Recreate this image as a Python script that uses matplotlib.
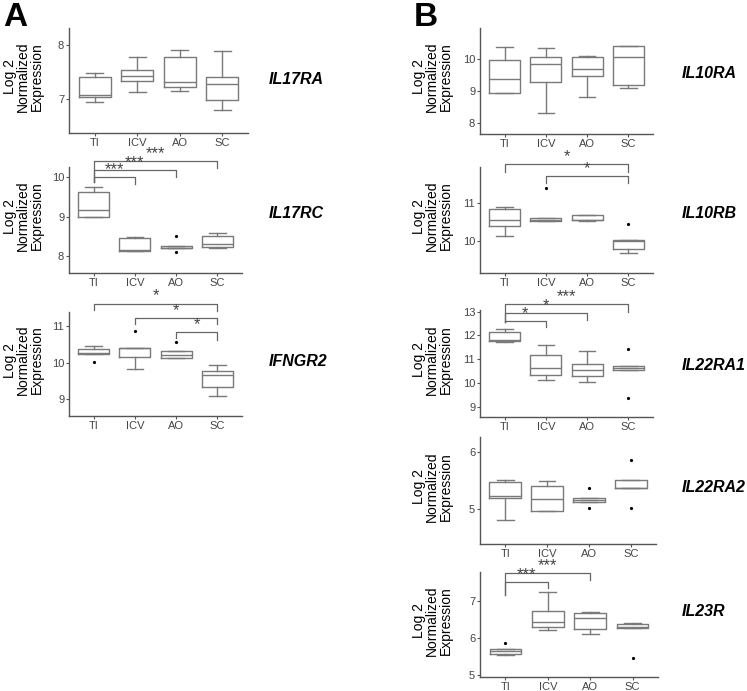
import matplotlib
matplotlib.use("Agg")
import matplotlib.pyplot as plt

plt.rcParams['font.family'] = ['Liberation Sans', 'DejaVu Sans']

groups = ["TI", "ICV", "AO", "SC"]

# five-number summaries per group: (whisker low, Q1, median, Q3, whisker high)
il17ra_stats = [(6.95, 7.03, 7.08, 7.40, 7.48), (7.12, 7.33, 7.42, 7.53, 7.78),
                (7.14, 7.22, 7.31, 7.77, 7.90), (6.80, 6.98, 7.28, 7.40, 7.88)]
il17ra_fliers = [[], [], [], []]

il17rc_stats = [(8.99, 8.99, 9.16, 9.62, 9.74), (8.14, 8.14, 8.16, 8.45, 8.49),
                (8.20, 8.20, 8.22, 8.27, 8.27), (8.21, 8.24, 8.31, 8.50, 8.58)]
il17rc_fliers = [[], [], [8.52, 8.10], []]

ifngr2_stats = [(10.25, 10.25, 10.27, 10.37, 10.46), (9.84, 10.16, 10.39, 10.41, 10.41),
                (10.13, 10.13, 10.22, 10.32, 10.32), (9.09, 9.33, 9.66, 9.78, 9.95)]
ifngr2_fliers = [[10.02], [10.86], [10.56], []]

il10ra_stats = [(8.93, 8.95, 9.37, 9.96, 10.35), (8.31, 9.28, 9.83, 10.06, 10.32),
                (8.83, 9.47, 9.68, 10.04, 10.07), (9.09, 9.19, 10.04, 10.38, 10.38)]
il10ra_fliers = [[], [], [], []]

il10rb_stats = [(10.14, 10.39, 10.55, 10.84, 10.91), (10.54, 10.54, 10.56, 10.60, 10.60),
                (10.54, 10.56, 10.57, 10.68, 10.68), (9.70, 9.80, 10.02, 10.04, 10.04)]
il10rb_fliers = [[], [11.41], [], [10.46]]

il22ra1_stats = [(11.74, 11.76, 11.83, 12.16, 12.26), (10.12, 10.33, 10.64, 11.20, 11.62),
                 (10.04, 10.32, 10.54, 10.79, 11.36), (10.57, 10.57, 10.64, 10.74, 10.74)]
il22ra1_fliers = [[], [], [], [11.43, 9.36]]

il22ra2_stats = [(4.81, 5.19, 5.23, 5.47, 5.50), (4.96, 4.96, 5.18, 5.40, 5.49),
                 (5.13, 5.13, 5.16, 5.19, 5.19), (5.37, 5.37, 5.37, 5.50, 5.50)]
il22ra2_fliers = [[], [], [5.37, 5.02], [5.85, 5.02]]

il23r_stats = [(5.54, 5.58, 5.65, 5.70, 5.70), (6.23, 6.30, 6.44, 6.73, 7.25),
               (6.12, 6.26, 6.55, 6.67, 6.71), (6.28, 6.28, 6.31, 6.38, 6.42)]
il23r_fliers = [[5.87], [], [], [5.47]]

# significance brackets: (group a, group b, bar height, drop at a, drop at b, label)
il17rc_sig = [(0, 1, 10.00, 9.87, 9.82, "***"), (0, 2, 10.17, 9.87, 10.00, "***"),
              (0, 3, 10.40, 9.87, 10.23, "***")]
ifngr2_sig = [(0, 3, 11.61, 11.43, 11.40, "*"), (1, 3, 11.21, 11.04, 11.04, "*"),
              (2, 3, 10.84, 10.68, 10.63, "*")]
il10rb_sig = [(0, 3, 12.03, 11.83, 11.81, "*"), (1, 3, 11.72, 11.54, 11.54, "*")]
il22ra1_sig = [(0, 1, 12.61, 12.55, 12.37, "*"), (0, 2, 12.93, 12.55, 12.65, "*"),
               (0, 3, 13.31, 12.55, 13.00, "***")]
il23r_sig = [(0, 1, 7.52, 7.18, 7.36, "***"), (0, 2, 7.77, 7.18, 7.57, "***")]

W, H = 747, 691
fig = plt.figure(figsize=(W / 100, H / 100), dpi=100)

grey = "#7a7a7a"
axis_grey = "#555555"


def panel(px, gene, stats, fliers, ylim, yticks, gene_y, sig=None):
    x0, y0, x1, y1 = px
    ax = fig.add_axes([x0 / W, 1 - y1 / H, (x1 - x0) / W, (y1 - y0) / H])
    bstats = []
    for s, f in zip(stats, fliers):
        bstats.append({"whislo": s[0], "q1": s[1], "med": s[2], "q3": s[3],
                       "whishi": s[4], "fliers": f})
    ax.bxp(bstats, positions=[1, 2, 3, 4], widths=0.75, capwidths=0.4,
           boxprops=dict(color=grey, linewidth=1.0),
           medianprops=dict(color=grey, linewidth=1.0),
           whiskerprops=dict(color=grey, linewidth=1.0),
           capprops=dict(color=grey, linewidth=1.0),
           flierprops=dict(marker="o", markersize=2.3, markerfacecolor="black",
                           markeredgecolor="none"))
    ax.set_xlim(0.4, 4.6)
    ax.set_ylim(*ylim)
    ax.set_xticks([1, 2, 3, 4])
    ax.set_xticklabels(groups)
    ax.set_yticks(yticks)
    for sp in ["top", "right"]:
        ax.spines[sp].set_visible(False)
    for sp in ["left", "bottom"]:
        ax.spines[sp].set_color(axis_grey)
        ax.spines[sp].set_linewidth(1.0)
    ax.tick_params(length=2.5, width=0.8, color=axis_grey, labelcolor="#444444",
                   labelsize=8, pad=1)
    if sig:
        for a, b, yb, da, db, lab in sig:
            xa, xb = a + 1, b + 1
            ax.plot([xa, xa, xb, xb], [da, yb, yb, db], color="#666666",
                    linewidth=0.9, clip_on=False)
            ax.text((xa + xb) / 2, yb, lab, ha="center", va="bottom",
                    fontsize=12, color="#444444", clip_on=False,
                    linespacing=1.0)
    cy = (y0 + y1) / 2 - 4
    lx = 23 if x0 < 300 else 432
    fig.text(lx / W, 1 - cy / H, "Log 2\nNormalized\nExpression", rotation=90,
             ha="center", va="center", multialignment="center", fontsize=10,
             linespacing=0.95)
    gx = 269 if x0 < 300 else 682
    fig.text(gx / W, 1 - gene_y / H, gene, ha="left", va="center",
             fontsize=11.5, fontweight="bold", fontstyle="italic")
    return ax


panel((69, 28, 248, 133), "IL17RA", il17ra_stats, il17ra_fliers, (6.37, 8.31), [7, 8], 80)
panel((69, 167, 242, 273), "IL17RC", il17rc_stats, il17rc_fliers, (7.58, 10.25), [8, 9, 10], 213, il17rc_sig)
panel((69, 312, 242, 416), "IFNGR2", ifngr2_stats, ifngr2_fliers, (8.55, 11.38), [9, 10, 11], 362, ifngr2_sig)
panel((480, 28, 653, 134), "IL10RA", il10ra_stats, il10ra_fliers, (7.67, 10.95), [8, 9, 10], 73)
panel((480, 167, 653, 273), "IL10RB", il10rb_stats, il10rb_fliers, (9.17, 11.95), [10, 11], 214, il10rb_sig)
panel((480, 310, 653, 417), "IL22RA1", il22ra1_stats, il22ra1_fliers, (8.58, 13.07), [9, 10, 11, 12, 13], 365, il22ra1_sig)
panel((480, 437, 656, 544), "IL22RA2", il22ra2_stats, il22ra2_fliers, (4.39, 6.26), [5, 6], 487)
panel((480, 572, 658, 677), "IL23R", il23r_stats, il23r_fliers, (4.95, 7.79), [5, 6, 7], 612, il23r_sig)

fig.text(3 / W, 1 - 2 / H, "A", ha="left", va="top", fontsize=24, fontweight="bold")
fig.text(414 / W, 1 - 2 / H, "B", ha="left", va="top", fontsize=24, fontweight="bold")

fig.savefig("out.png", dpi=100)
